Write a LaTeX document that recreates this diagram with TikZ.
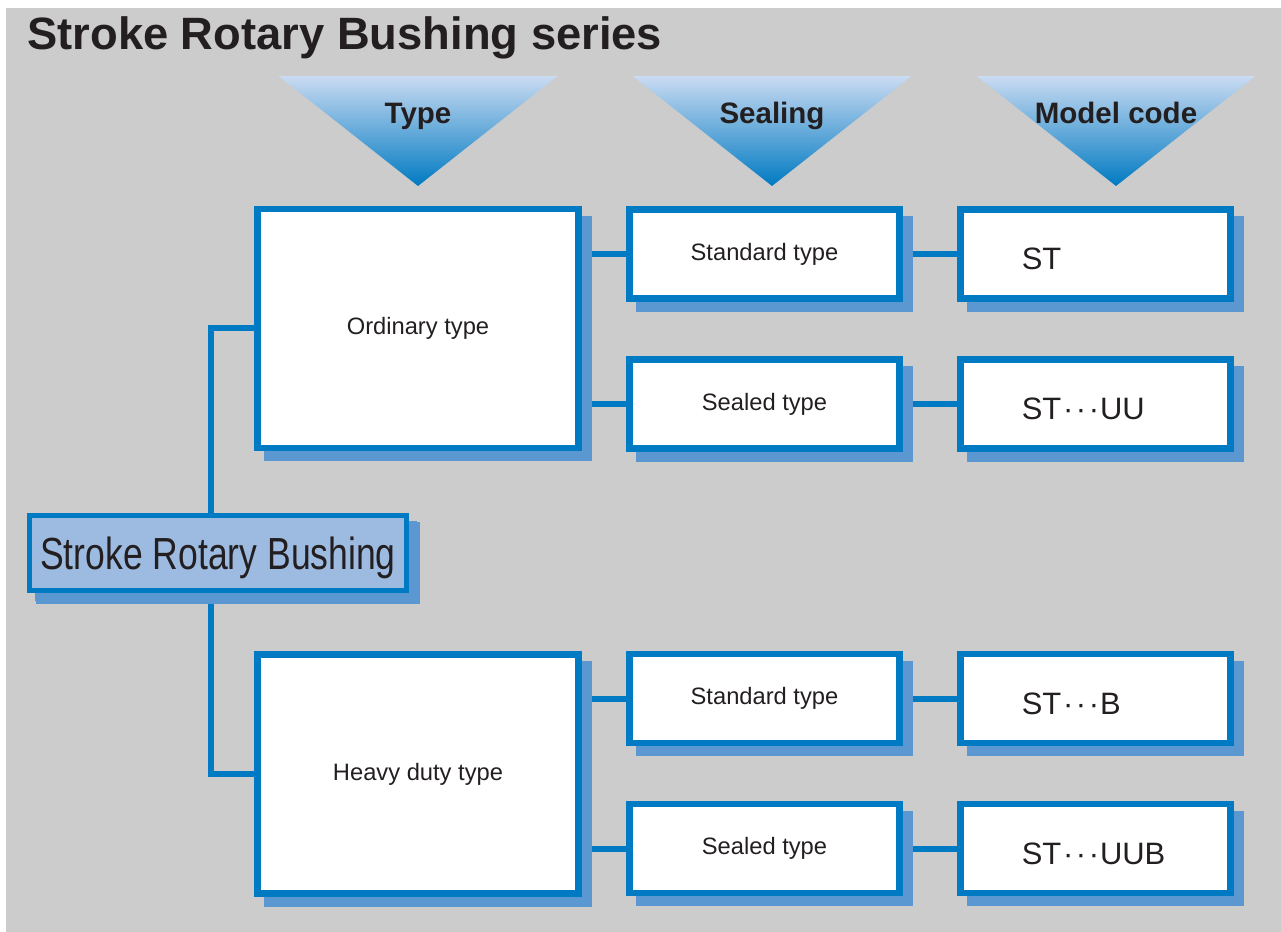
\documentclass[tikz,border=0pt]{standalone}
\usepackage{fontspec}
\setmainfont{Liberation Sans}
\newfontfamily\condfont[FakeStretch=0.79]{Liberation Sans}
\usepackage{xcolor}
\usepackage{tikz}
\usetikzlibrary{calc,shadows}
\definecolor{fondogris}{RGB}{204,204,204}
\definecolor{azul}{RGB}{0,122,194}
\definecolor{azulsombra}{RGB}{91,151,208}
\definecolor{azulclaro}{RGB}{157,187,225}
\definecolor{triclaro}{RGB}{202,219,242}
\definecolor{textonegro}{RGB}{35,31,32}
\pgfdeclarelayer{fondo}
\pgfdeclarelayer{lineas}
\pgfsetlayers{fondo,lineas,main}
\newcommand{\puntos}{\kern1pt·\kern1.5pt·\kern1.5pt·\kern0.5pt}

\begin{document}
\begin{tikzpicture}[x=0.02cm, y=-0.02cm,
    caja/.style={draw=azul, line width=0.13cm, fill=white, text=textonegro,
      drop shadow={shadow xshift=0.2cm, shadow yshift=-0.2cm, fill=azulsombra,
        draw=azulsombra, line width=0.13cm, opacity=1}},
    tipo/.style={caja, minimum width=6.43cm, minimum height=4.78cm,
      font=\fontsize{13.5}{16}\selectfont},
    sellado/.style={caja, minimum width=5.41cm, minimum height=1.79cm,
      font=\fontsize{13.5}{16}\selectfont},
    codigo/.style={caja, text width=2.95cm, align=left, inner xsep=1.23cm,
      minimum height=1.79cm, text height=0.64cm, text depth=0pt,
      font=\fontsize{17.6}{20}\selectfont},
    conector/.style={draw=azul, line width=0.12cm},
    cabecera/.style={font=\bfseries\fontsize{16.8}{20}\selectfont, text=textonegro, anchor=base}]
        \useasboundingbox (0,0) rectangle (1281,932);
        % Fondo gris
        \begin{pgfonlayer}{fondo}
          \fill[fondogris] (6,8) rectangle (1281,932);
        \end{pgfonlayer}
        % Titulo
        \node[anchor=base west, inner sep=0pt, text=textonegro,
          font=\bfseries\fontsize{25.8}{30}\selectfont] (titulo) at (27,50) {Stroke Rotary Bushing series};
        % Triangulos de cabecera
        \foreach \cx/\etiqueta in {418/Type, 772/Sealing, 1116/Model code} {
          \shade[top color=triclaro, bottom color=azul] (\cx-139.5,76) -- (\cx+139.5,76) -- (\cx,186) -- cycle;
          \node[cabecera] (cab\cx) at (\cx,124) {\etiqueta};
        }
        % Nodo principal
        \node[caja, fill=azulclaro, line width=0.1cm, minimum width=7.54cm, minimum height=1.5cm,
          text height=0.68cm, text depth=0pt, font=\condfont\fontsize{25.6}{30}\selectfont,
          drop shadow={shadow xshift=0.16cm, shadow yshift=-0.16cm, fill=azulsombra,
            draw=azulsombra, line width=0.1cm, opacity=1}] (srb) at (218,553) {Stroke Rotary Bushing};
        % Tipos
        \node[tipo] (ordinaria) at (418,328.5) {Ordinary type};
        \node[tipo] (pesada) at (418,774) {Heavy duty type};
        % Sellado
        \node[sellado] (estandar1) at (764.5,254) {Standard type};
        \node[sellado] (sellada1) at (764.5,404) {Sealed type};
        \node[sellado] (estandar2) at (764.5,698.5) {Standard type};
        \node[sellado] (sellada2) at (764.5,848.5) {Sealed type};
        % Codigos de modelo
        \node[codigo] (st) at (1095.5,254) {ST};
        \node[codigo] (stuu) at (1095.5,404) {ST\puntos UU};
        \node[codigo] (stb) at (1095.5,698.5) {ST\puntos B};
        \node[codigo] (stuub) at (1095.5,848.5) {ST\puntos UUB};
        % Conectores
        \begin{pgfonlayer}{lineas}
          \draw[conector] ([xshift=-0.14cm]srb.center) |- (ordinaria.west);
          \draw[conector] ([xshift=-0.14cm]srb.center) |- (pesada.west);
          \draw[conector] (estandar1) -- (estandar1 -| ordinaria);
          \draw[conector] (sellada1) -- (sellada1 -| ordinaria);
          \draw[conector] (estandar2) -- (estandar2 -| pesada);
          \draw[conector] (sellada2) -- (sellada2 -| pesada);
          \draw[conector] (estandar1) -- (st);
          \draw[conector] (sellada1) -- (stuu);
          \draw[conector] (estandar2) -- (stb);
          \draw[conector] (sellada2) -- (stuub);
        \end{pgfonlayer}
    \end{tikzpicture}
\end{document}
